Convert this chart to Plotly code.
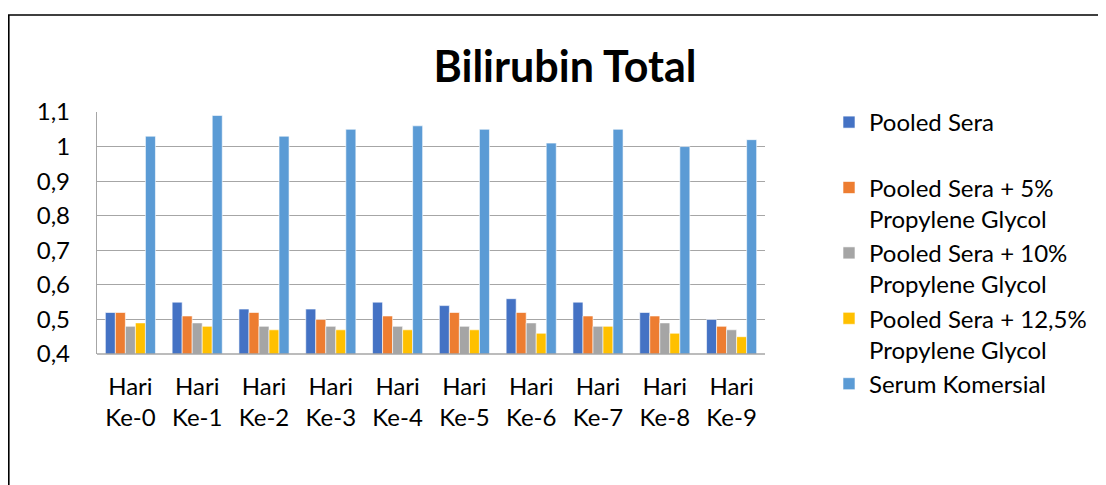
import plotly.graph_objects as go

categories = ["Hari<br>Ke-0", "Hari<br>Ke-1", "Hari<br>Ke-2", "Hari<br>Ke-3", "Hari<br>Ke-4",
              "Hari<br>Ke-5", "Hari<br>Ke-6", "Hari<br>Ke-7", "Hari<br>Ke-8", "Hari<br>Ke-9"]

pooled_sera = [0.52, 0.55, 0.53, 0.53, 0.55, 0.54, 0.56, 0.55, 0.52, 0.50]
pg_5 = [0.52, 0.51, 0.52, 0.50, 0.51, 0.52, 0.52, 0.51, 0.51, 0.48]
pg_10 = [0.48, 0.49, 0.48, 0.48, 0.48, 0.48, 0.49, 0.48, 0.49, 0.47]
pg_125 = [0.49, 0.48, 0.47, 0.47, 0.47, 0.47, 0.46, 0.48, 0.46, 0.45]
serum_komersial = [1.03, 1.09, 1.03, 1.05, 1.06, 1.05, 1.01, 1.05, 1.00, 1.02]

series = [
    ("Pooled Sera<br> ", pooled_sera, "#4472C4"),
    ("Pooled Sera + 5%<br>Propylene Glycol", pg_5, "#ED7D31"),
    ("Pooled Sera + 10%<br>Propylene Glycol", pg_10, "#A5A5A5"),
    ("Pooled Sera + 12,5%<br>Propylene Glycol", pg_125, "#FFC000"),
    ("Serum Komersial", serum_komersial, "#5B9BD5"),
]

FONT = "Lato"
OFF = 8  # page body margin offset
W, H = 1106 - OFF, 485 - OFF
L, R, T, B = 97 - OFF, 765 - OFF, 112 - OFF, 354 - OFF

fig = go.Figure()
for name, vals, col in series:
    fig.add_trace(go.Bar(
        x=categories, y=vals, name=name,
        marker=dict(color=col, line=dict(color="white", width=0.6)),
    ))

def px_x(p):
    return (p - OFF - L) / (R - L)

def px_y(p):
    return (B - (p - OFF)) / (B - T)

fig.update_layout(
    width=W, height=H,
    margin=dict(l=L, r=W - R, t=T, b=H - B, autoexpand=False),
    paper_bgcolor="white", plot_bgcolor="white",
    separators=", ",
    barmode="group", bargap=0.25, bargroupgap=0.0,
    font=dict(family=FONT, size=24, color="#000000"),
    title=dict(text="<b>Bilirubin Total</b>", x=(565 - OFF) / W, xanchor="center",
               y=1 - (67 - OFF) / H, yanchor="middle",
               font=dict(family=FONT, size=43, color="#000000")),
    xaxis=dict(showgrid=False, showline=False, ticks="", ticklabelstandoff=16,
               tickfont=dict(size=24)),
    yaxis=dict(range=[0.4, 1.1], dtick=0.1, tick0=0.4, showgrid=True,
               gridcolor="#A6A6A6", gridwidth=1.3, zeroline=False,
               showline=True, linecolor="#A6A6A6", linewidth=1.3,
               ticks="", ticklabelstandoff=21, tickfont=dict(size=24)),
    legend=dict(x=px_x(829), xanchor="left", y=px_y(100), yanchor="top",
                valign="top", traceorder="normal", font=dict(size=24),
                itemwidth=30, maxheight=1000, bgcolor="rgba(0,0,0,0)"),
    shapes=[
        dict(type="line", xref="paper", yref="paper", x0=0, x1=1, y0=0, y1=0,
             line=dict(color="#A6A6A6", width=1.3)),
        dict(type="rect", xref="paper", yref="paper",
             x0=px_x(8.8), x1=px_x(1130), y0=px_y(15), y1=px_y(540),
             line=dict(color="#000000", width=1.6), fillcolor="rgba(0,0,0,0)"),
    ],
)

fig.write_html("out.html")
